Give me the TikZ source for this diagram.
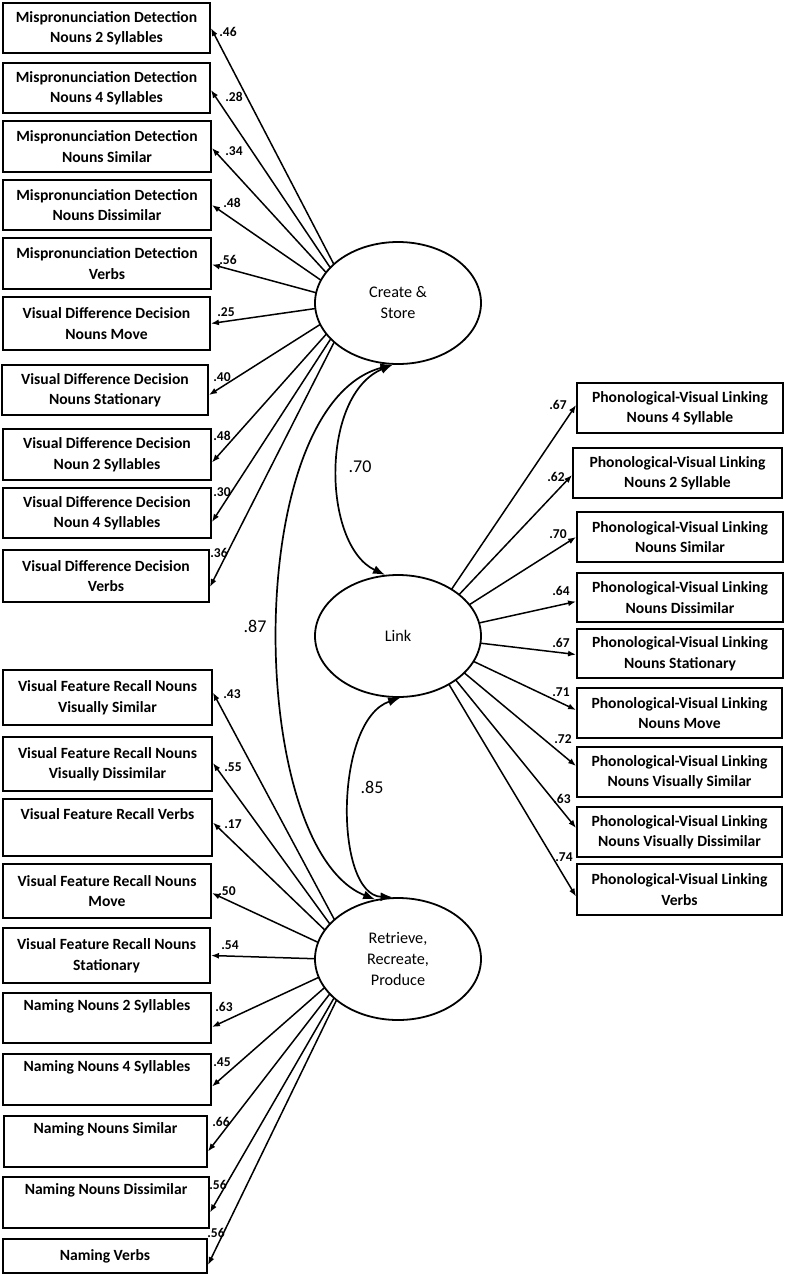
\documentclass[tikz,border=0pt]{standalone}
\usepackage{fontspec}
\setmainfont{Carlito}
\usetikzlibrary{shapes.geometric,arrows.meta,calc}
\pgfdeclarelayer{back}
\pgfdeclarelayer{bg}
\pgfsetlayers{back,bg,main}
\newcommand{\bx}[6]{\node[box, minimum width={(#4)-(#2)}, minimum height={(#5)-(#3)}] (#1) at ({((#2)+(#4))/2},{((#3)+(#5))/2}) {#6};}
\begin{document}
\begin{tikzpicture}[x=1pt,y=-1pt,
  box/.style={draw, line width=1.9pt, fill=white, inner sep=0pt, align=center, font=\bfseries\fontsize{15.6}{20.5}\selectfont},
  latent/.style={draw, ellipse, line width=1.8pt, fill=white, inner sep=0pt, minimum width=166pt, minimum height=122pt, align=center, font=\fontsize{16.2}{21}\selectfont},
  conn/.style={line width=1.5pt, -{Latex[length=8pt,width=6pt]}},
  corr/.style={line width=1.7pt, {Latex[length=12pt,width=9pt]}-{Latex[length=12pt,width=9pt]}},
  coef/.style={font=\bfseries\fontsize{13.5}{15}\selectfont, inner sep=0pt},
  bigcoef/.style={font=\fontsize{18}{20}\selectfont, inner sep=0pt}]
\begin{pgfonlayer}{back}
\fill[white] (0,0) rectangle (787,1275);
\end{pgfonlayer}
\useasboundingbox (0,0) rectangle (787,1275);

% latent variables
\node[latent] (cs) at (398,303) {Create \&\\Store};
\node[latent] (link) at (398,636) {Link};
\node[latent] (rrp) at (398,959) {Retrieve,\\Recreate,\\Produce};

\coordinate (csHub) at ($(cs.center)+(-44,0)$);
\coordinate (linkHub) at ($(link.center)+(22,0)$);
\coordinate (rrpHub) at ($(rrp.center)+(-42,1)$);

% left boxes, upper group
\bx{b1}{3}{3}{210}{53}{Mispronunciation Detection\\Nouns 2 Syllables}
\bx{b2}{3}{63}{210}{113}{Mispronunciation Detection\\Nouns 4 Syllables}
\bx{b3}{3}{121}{211}{172}{Mispronunciation Detection\\Nouns Similar}
\bx{b4}{3}{180}{211}{230}{Mispronunciation Detection\\Nouns Dissimilar}
\bx{b5}{3}{238}{211}{289}{Mispronunciation Detection\\Verbs}
\bx{b6}{3}{297}{210}{350}{Visual Difference Decision\\Nouns Move}
\bx{b7}{2}{365}{208}{415}{Visual Difference Decision\\Nouns Stationary}
\bx{b8}{3}{429}{211}{480}{Visual Difference Decision\\Noun 2 Syllables}
\bx{b9}{3}{488}{211}{538}{Visual Difference Decision\\Noun 4 Syllables}
\bx{b10}{3}{550}{209}{602}{Visual Difference Decision\\Verbs}

% left boxes, lower group
\bx{b11}{3}{670}{212}{725}{Visual Feature Recall Nouns\\Visually Similar}
\bx{b12}{3}{737}{212}{791}{Visual Feature Recall Nouns\\Visually Dissimilar}
\bx{b13}{3}{799}{212}{856}{Visual Feature Recall Verbs\\\strut}
\bx{b14}{3}{864}{211}{918}{Visual Feature Recall Nouns\\Move}
\bx{b15}{3}{928}{210}{983}{Visual Feature Recall Nouns\\Stationary}
\bx{b16}{3}{993}{211}{1043}{Naming Nouns 2 Syllables\\\strut}
\bx{b17}{3}{1054}{211}{1105}{Naming Nouns 4 Syllables\\\strut}
\bx{b18}{4}{1116}{207}{1167}{Naming Nouns Similar\\\strut}
\bx{b19}{3}{1177}{209}{1228}{Naming Nouns Dissimilar\\\strut}
\bx{b20}{3}{1239}{207}{1273}{Naming Verbs}

% right boxes
\bx{r1}{577}{383}{783}{433}{Phonological-Visual Linking\\Nouns 4 Syllable}
\bx{r2}{573}{448}{782}{498}{Phonological-Visual Linking\\Nouns 2 Syllable}
\bx{r3}{577}{512}{783}{562}{Phonological-Visual Linking\\Nouns Similar}
\bx{r4}{577}{573}{783}{622}{Phonological-Visual Linking\\Nouns Dissimilar}
\bx{r5}{577}{629}{783}{678}{Phonological-Visual Linking\\Nouns Stationary}
\bx{r6}{577}{688}{782}{738}{Phonological-Visual Linking\\Nouns Move}
\bx{r7}{577}{747}{782}{797}{Phonological-Visual Linking\\Nouns Visually Similar}
\bx{r8}{577}{807}{782}{857}{Phonological-Visual Linking\\Nouns Visually Dissimilar}
\bx{r9}{577}{864}{782}{915}{Phonological-Visual Linking\\Verbs}

% loadings (drawn behind the ellipses)
\begin{pgfonlayer}{bg}
\draw[conn] (csHub) -- ($(b1.east)+(0,0)$);
\draw[conn] (csHub) -- ($(b2.east)+(0,2)$);
\draw[conn] (csHub) -- ($(b3.east)+(0,1.5)$);
\draw[conn] (csHub) -- ($(b4.east)+(0,0)$);
\draw[conn] (csHub) -- ($(b5.east)+(0,1)$);
\draw[conn] (csHub) -- ($(b6.east)+(0,0)$);
\draw[conn] (csHub) -- ($(b7.east)+(0,5)$);
\draw[conn] (csHub) -- ($(b8.east)+(0,8)$);
\draw[conn] (csHub) -- ($(b9.east)+(0,9)$);
\draw[conn] (csHub) -- ($(b10.east)+(0,11)$);

\draw[conn] (rrpHub) -- ($(b11.east)+(0,-5)$);
\draw[conn] (rrpHub) -- ($(b12.east)+(0,-1)$);
\draw[conn] (rrpHub) -- ($(b13.east)+(0,-5)$);
\draw[conn] (rrpHub) -- ($(b14.east)+(0,2)$);
\draw[conn] (rrpHub) -- ($(b15.east)+(0,0)$);
\draw[conn] (rrpHub) -- ($(b16.east)+(0,9)$);
\draw[conn] (rrpHub) -- ($(b17.east)+(0,7)$);
\draw[conn] (rrpHub) -- ($(b18.east)+(0,10)$);
\draw[conn] (rrpHub) -- ($(b19.east)+(0,10)$);
\draw[conn] (rrpHub) -- ($(b20.east)+(0,9)$);

\draw[conn] (linkHub) -- ($(r1.west)+(0,-3)$);
\draw[conn] (linkHub) -- ($(r2.west)+(0,2)$);
\draw[conn] (linkHub) -- ($(r3.west)+(0,0)$);
\draw[conn] (linkHub) -- ($(r4.west)+(0,4)$);
\draw[conn] (linkHub) -- ($(r5.west)+(0,1)$);
\draw[conn] (linkHub) -- ($(r6.west)+(0,-3)$);
\draw[conn] (linkHub) -- ($(r7.west)+(0,-6)$);
\draw[conn] (linkHub) -- ($(r8.west)+(0,-4)$);
\draw[conn] (linkHub) -- ($(r9.west)+(0,7)$);
\end{pgfonlayer}

% correlations
\draw[corr] (cs.265) .. controls (320,395) and (322,545) .. (link.102);
\draw[corr] (cs.265) .. controls (240,405) and (246,848) .. (rrp.111);
\draw[corr] (link.272) .. controls (334,720) and (334,895) .. (rrp.95);

\node[bigcoef] (c70) at (360,467) {.70};
\node[bigcoef] (c85) at (372,787) {.85};
\node[bigcoef] (c87) at (255,626) {.87};

% loading labels
\node[coef] (l1) at (228,32) {.46};
\node[coef] (l2) at (234,97) {.28};
\node[coef] (l3) at (234,151) {.34};
\node[coef] (l4) at (232,203) {.48};
\node[coef] (l5) at (228,260) {.56};
\node[coef] (l6) at (226,312) {.25};
\node[coef] (l7) at (222,377) {.40};
\node[coef] (l8) at (222,436) {.48};
\node[coef] (l9) at (222,492) {.30};
\node[coef] (l10) at (219,553) {.36};
\node[coef] (l11) at (232,694) {.43};
\node[coef] (l12) at (233,767) {.55};
\node[coef] (l13) at (233,824) {.17};
\node[coef] (l14) at (227,891) {.50};
\node[coef] (l15) at (230,945) {.54};
\node[coef] (l16) at (224,1007) {.63};
\node[coef] (l17) at (222,1062) {.45};
\node[coef] (l18) at (221,1122) {.66};
\node[coef] (l19) at (218,1185) {.56};
\node[coef] (l20) at (216,1233) {.56};

\node[coef] (m1) at (558,405) {.67};
\node[coef] (m2) at (556,477) {.62};
\node[coef] (m3) at (558,534) {.70};
\node[coef] (m4) at (561,591) {.64};
\node[coef] (m5) at (561,643) {.67};
\node[coef] (m6) at (561,692) {.71};
\node[coef] (m7) at (563,739) {.72};
\node[coef] (m8) at (562,799) {.63};
\node[coef] (m9) at (564,857) {.74};
\end{tikzpicture}
\end{document}
